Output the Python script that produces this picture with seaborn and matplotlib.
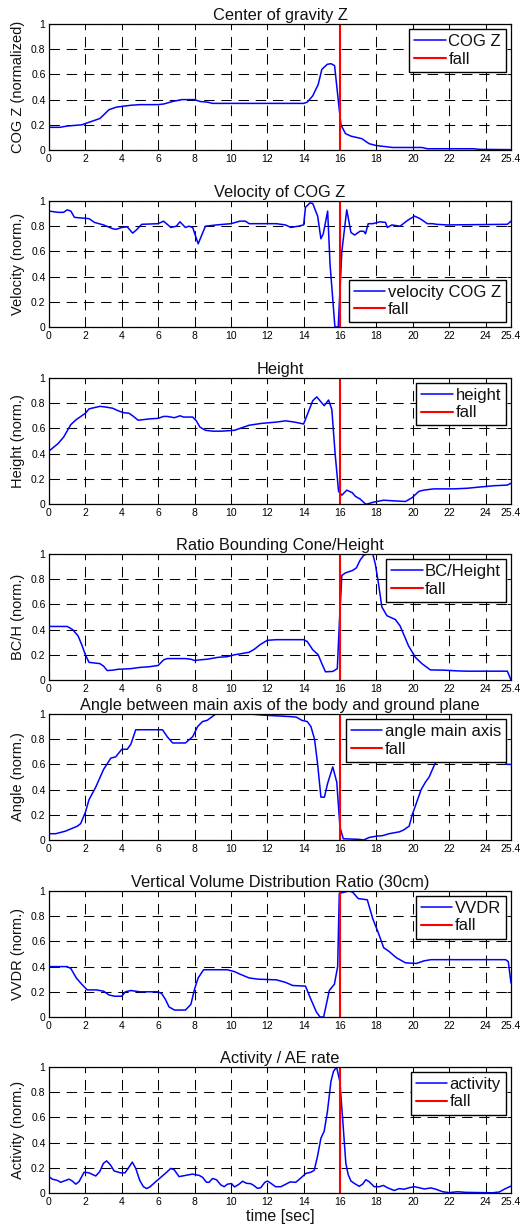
import matplotlib
matplotlib.use("Agg")
import matplotlib.pyplot as plt
import pandas as pd
import seaborn as sns

FALL_TIME = 16.0
T_END = 25.4

# --- Center of gravity Z -------------------------------------------------
cog_t = [0, 0.6, 1.0, 1.8, 2.2, 2.8, 3.3, 3.7, 4.5, 5.0, 6.0, 6.3, 6.8, 7.3, 8.0,
         8.3, 8.7, 9.0, 10.0, 14.0, 14.2, 14.5, 14.8, 15.0, 15.3, 15.5, 15.7,
         15.9, 16.05, 16.3, 16.6, 17.2, 17.6, 18.0, 18.9, 20.5, 20.8, 23.3, 23.7, 25.4]
cog_z = [0.18, 0.18, 0.19, 0.20, 0.22, 0.25, 0.32, 0.34, 0.355, 0.36, 0.36, 0.365,
         0.385, 0.40, 0.40, 0.385, 0.38, 0.37, 0.37, 0.37, 0.38, 0.43, 0.52, 0.64,
         0.68, 0.685, 0.67, 0.40, 0.20, 0.13, 0.11, 0.09, 0.05, 0.035, 0.02, 0.02,
         0.01, 0.01, 0.005, 0.003]

# --- Velocity of COG Z ---------------------------------------------------
vel_t = [0, 0.5, 0.8, 1.0, 1.2, 1.4, 1.8, 2.2, 2.5, 3.0, 3.5, 3.7, 4.0, 4.3, 4.6,
         4.8, 5.1, 6.0, 6.3, 6.7, 7.0, 7.2, 7.5, 7.7, 7.9, 8.2, 8.6, 9.2, 10.0,
         10.5, 10.8, 11.0, 12.5, 13.0, 13.3, 13.7, 14.0, 14.1, 14.35, 14.5, 14.77,
         14.95, 15.08, 15.32, 15.45, 15.72, 15.9, 16.1, 16.37, 16.6, 16.8, 17.1,
         17.3, 17.4, 17.55, 17.8, 18.2, 18.5, 18.6, 18.85, 19.3, 19.75, 20.1, 20.4,
         20.8, 21.1, 21.3, 21.9, 25.2, 25.4]
vel_v = [0.92, 0.91, 0.91, 0.93, 0.92, 0.87, 0.865, 0.86, 0.83, 0.81, 0.78, 0.775,
         0.79, 0.795, 0.745, 0.77, 0.815, 0.82, 0.84, 0.79, 0.80, 0.835, 0.79, 0.80,
         0.79, 0.66, 0.80, 0.81, 0.82, 0.84, 0.84, 0.82, 0.82, 0.81, 0.79, 0.80,
         0.81, 0.95, 0.985, 0.98, 0.88, 0.70, 0.74, 0.92, 0.50, 0.0, 0.0, 0.60,
         0.93, 0.75, 0.73, 0.76, 0.76, 0.74, 0.82, 0.82, 0.835, 0.83, 0.79, 0.81,
         0.80, 0.85, 0.88, 0.86, 0.82, 0.82, 0.815, 0.81, 0.815, 0.84]

# --- Height --------------------------------------------------------------
hgt_t = [0, 0.5, 0.8, 1.2, 1.5, 2.0, 2.2, 2.5, 2.8, 3.1, 3.5, 3.8, 4.1, 4.4, 4.6,
         4.9, 5.1, 5.5, 6.0, 6.3, 6.5, 6.9, 7.2, 7.4, 7.9, 8.1, 8.3, 8.6, 9.0, 9.5,
         10.2, 10.5, 11.0, 11.7, 12.5, 13.0, 13.5, 14.0, 14.5, 14.72, 15.13, 15.37,
         15.55, 15.73, 15.92, 16.1, 16.37, 16.67, 16.85, 17.1, 17.4, 17.5, 17.85,
         18.4, 18.96, 19.6, 19.96, 20.33, 20.6, 21.15, 22.25, 23.0, 23.7, 24.46,
         25.2, 25.4]
hgt_v = [0.42, 0.48, 0.53, 0.63, 0.67, 0.72, 0.755, 0.765, 0.775, 0.77, 0.76, 0.74,
         0.725, 0.72, 0.70, 0.665, 0.668, 0.675, 0.68, 0.695, 0.695, 0.685, 0.70,
         0.69, 0.69, 0.66, 0.61, 0.585, 0.578, 0.578, 0.585, 0.60, 0.625, 0.64,
         0.65, 0.66, 0.65, 0.635, 0.82, 0.85, 0.78, 0.825, 0.75, 0.40, 0.10, 0.07,
         0.11, 0.09, 0.06, 0.04, 0.0, 0.0, 0.015, 0.03, 0.025, 0.02, 0.05, 0.10,
         0.11, 0.12, 0.12, 0.125, 0.135, 0.145, 0.15, 0.165]

# --- Ratio bounding cone / height ----------------------------------------
bch_t = [0, 1.0, 1.3, 1.6, 1.8, 2.0, 2.2, 2.5, 2.8, 3.0, 3.2, 3.5, 3.8, 4.5, 5.0,
         5.5, 6.0, 6.3, 6.5, 7.5, 7.8, 8.0, 8.3, 8.7, 9.3, 9.8, 10.2, 10.6, 11.0,
         11.3, 11.6, 12.0, 12.5, 14.0, 14.2, 14.5, 14.8, 15.0, 15.2, 15.6, 15.85,
         15.97, 16.1, 16.3, 16.7, 16.9, 17.1, 17.3, 17.5, 17.8, 17.94, 18.1, 18.3,
         18.58, 19.04, 19.3, 19.77, 20.14, 20.5, 20.97, 21.7, 22.5, 23.0, 25.2, 25.4]
bch_v = [0.425, 0.425, 0.40, 0.35, 0.28, 0.20, 0.14, 0.135, 0.13, 0.11, 0.075,
         0.078, 0.085, 0.09, 0.10, 0.105, 0.115, 0.16, 0.17, 0.17, 0.165, 0.155,
         0.16, 0.165, 0.18, 0.185, 0.20, 0.21, 0.22, 0.245, 0.28, 0.315, 0.32, 0.32,
         0.305, 0.24, 0.20, 0.13, 0.065, 0.068, 0.09, 0.47, 0.83, 0.85, 0.87, 0.89,
         0.95, 0.99, 1.0, 1.0, 0.92, 0.78, 0.58, 0.51, 0.48, 0.43, 0.27, 0.18, 0.13,
         0.08, 0.078, 0.072, 0.07, 0.07, 0.0]

# --- Angle between main axis and ground plane -----------------------------
ang_t = [0, 0.37, 0.9, 1.56, 1.74, 2.0, 2.2, 2.57, 3.0, 3.4, 3.67, 4.0, 4.3, 4.5,
         4.77, 6.24, 6.5, 6.8, 7.5, 7.9, 8.17, 8.44, 8.7, 9.17, 11.0, 11.9, 13.2,
         13.6, 13.9, 14.2, 14.4, 14.6, 14.77, 14.95, 15.14, 15.32, 15.6, 15.82,
         16.0, 16.18, 17.06, 17.3, 17.6, 17.98, 18.35, 18.7, 19.27, 19.5, 19.8,
         19.97, 20.46, 20.7, 20.9, 21.2, 21.6, 22.0, 23.0, 24.0, 25.0, 25.2, 25.4]
ang_v = [0.05, 0.05, 0.07, 0.11, 0.13, 0.22, 0.32, 0.42, 0.56, 0.65, 0.66, 0.72,
         0.72, 0.76, 0.875, 0.875, 0.82, 0.77, 0.77, 0.82, 0.90, 0.94, 0.95, 1.0,
         1.0, 0.99, 0.98, 0.975, 0.95, 0.94, 0.90, 0.80, 0.60, 0.34, 0.34, 0.45,
         0.58, 0.46, 0.10, 0.01, 0.005, 0.0, 0.02, 0.03, 0.035, 0.05, 0.065, 0.08,
         0.11, 0.20, 0.40, 0.46, 0.50, 0.60, 0.67, 0.70, 0.70, 0.68, 0.63, 0.60, 0.60]

# --- Vertical volume distribution ratio -----------------------------------
vvd_t = [0, 1.0, 1.2, 1.5, 1.8, 2.1, 2.6, 3.0, 3.3, 3.6, 4.0, 4.2, 4.5, 5.0, 6.0,
         6.2, 6.4, 6.6, 6.9, 7.5, 7.8, 8.0, 8.2, 8.5, 9.8, 10.2, 10.5, 11.0, 11.5,
         12.5, 13.0, 13.4, 14.1, 14.4, 14.7, 14.9, 15.1, 15.41, 15.69, 15.87, 15.96,
         16.2, 16.5, 16.7, 17.0, 17.5, 17.8, 18.1, 18.4, 18.7, 19.1, 19.6, 20.2,
         20.6, 21.0, 25.1, 25.25, 25.4]
vvd_v = [0.40, 0.40, 0.385, 0.31, 0.26, 0.215, 0.215, 0.205, 0.175, 0.165, 0.165,
         0.20, 0.21, 0.20, 0.20, 0.185, 0.14, 0.08, 0.055, 0.055, 0.10, 0.22, 0.31,
         0.375, 0.375, 0.36, 0.34, 0.31, 0.30, 0.295, 0.275, 0.25, 0.245, 0.14, 0.04,
         0.0, 0.0, 0.21, 0.26, 0.40, 0.98, 0.99, 1.0, 0.99, 0.94, 0.93, 0.78, 0.67,
         0.55, 0.52, 0.47, 0.43, 0.425, 0.445, 0.455, 0.455, 0.44, 0.27]

# --- Activity / AE rate ---------------------------------------------------
act_t = [0, 0.18, 0.46, 0.64, 0.92, 1.1, 1.28, 1.47, 1.65, 1.93, 2.2, 2.57, 2.79,
         2.99, 3.17, 3.39, 3.58, 3.94, 4.18, 4.44, 4.58, 4.77, 4.99, 5.19, 5.37,
         5.56, 5.87, 6.23, 6.51, 6.69, 6.88, 7.15, 7.52, 7.89, 8.25, 8.44, 8.66,
         8.8, 8.99, 9.21, 9.44, 9.63, 9.81, 10.03, 10.2, 10.45, 10.64, 10.86, 11.09,
         11.28, 11.46, 11.64, 11.87, 12.01, 12.2, 12.45, 12.75, 13.02, 13.26, 13.57,
         13.85, 14.12, 14.4, 14.58, 14.76, 14.95, 15.13, 15.31, 15.5, 15.64, 15.81,
         15.99, 16.14, 16.32, 16.45, 16.6, 16.78, 17.05, 17.24, 17.42, 17.6, 17.88,
         18.15, 18.39, 18.6, 18.98, 19.25, 19.53, 19.8, 20.08, 20.35, 20.63, 21.0,
         21.27, 21.64, 22.0, 22.46, 22.92, 23.84, 24.39, 24.76, 25.03, 25.4]
act_v = [0.13, 0.11, 0.10, 0.085, 0.10, 0.11, 0.095, 0.07, 0.09, 0.165, 0.16,
         0.135, 0.17, 0.235, 0.255, 0.22, 0.175, 0.16, 0.16, 0.215, 0.245, 0.195,
         0.10, 0.05, 0.035, 0.05, 0.09, 0.135, 0.17, 0.195, 0.185, 0.13, 0.14, 0.15,
         0.14, 0.125, 0.085, 0.085, 0.115, 0.105, 0.065, 0.05, 0.07, 0.075, 0.048,
         0.07, 0.093, 0.077, 0.074, 0.058, 0.037, 0.042, 0.085, 0.095, 0.077, 0.05,
         0.05, 0.07, 0.088, 0.085, 0.12, 0.155, 0.165, 0.18, 0.29, 0.435, 0.49, 0.65,
         0.885, 0.965, 1.0, 0.885, 0.595, 0.235, 0.145, 0.095, 0.077, 0.053, 0.07,
         0.105, 0.09, 0.05, 0.05, 0.06, 0.042, 0.02, 0.035, 0.03, 0.042, 0.05, 0.042,
         0.032, 0.04, 0.03, 0.01, 0.003, 0.01, 0.005, 0.003, 0.002, 0.008, 0.03, 0.055]

titles = ["Center of gravity Z", "Velocity of COG Z", "Height",
          "Ratio Bounding Cone/Height",
          "Angle between main axis of the body and ground plane",
          "Vertical Volume Distribution Ratio (30cm)", "Activity / AE rate"]
ylabels = ["COG Z (normalized)", "Velocity (norm.)", "Height (norm.)",
           "BC/H (norm.)", "Angle (norm.)", "VVDR (norm.)", "Activity (norm.)"]
series_names = ["COG Z", "velocity COG Z", "height", "BC/Height",
                "angle main axis", "VVDR", "activity"]
fall_label = "fall"
x_ticks = [0, 2, 4, 6, 8, 10, 12, 14, 16, 18, 20, 22, 24, 25.4]
x_ticklabels = ["0", "2", "4", "6", "8", "10", "12", "14", "16", "18", "20",
                "22", "24", "25.4"]
y_ticks = [0, 0.2, 0.4, 0.6, 0.8, 1.0]
y_ticklabels = ["0", "0.2", "0.4", "0.6", "0.8", "1"]
xlabel = "time [sec]"

series = [(cog_t, cog_z), (vel_t, vel_v), (hgt_t, hgt_v), (bch_t, bch_v),
          (ang_t, ang_v), (vvd_t, vvd_v), (act_t, act_v)]
legend_locs = ["upper right", "lower right", "upper right", "upper right",
               "upper right", "upper right", "upper right"]

sns.set_theme(style="white")
plt.rcParams["font.family"] = ["Liberation Sans", "DejaVu Sans"]

W, H = 523, 1228
fig = plt.figure(figsize=(W / 100, H / 100), dpi=100)
fig.patch.set_facecolor("white")

# panel tops in pixels from the top edge; every panel is 126 px tall
tops = [24, 201, 378, 554, 714, 891, 1067]
left_px, right_px, height_px = 49, 511, 126

for i, ((t, v), top) in enumerate(zip(series, tops)):
    ax = fig.add_axes([left_px / W, 1 - (top + height_px) / H,
                       (right_px - left_px) / W, height_px / H])
    df = pd.DataFrame({"t": t, "v": v})
    sns.lineplot(data=df, x="t", y="v", ax=ax, color="#0000ff", linewidth=1.1,
                 label=series_names[i], sort=False, estimator=None)
    ax.axvline(FALL_TIME, color="#ff0000", linewidth=1.5, label=fall_label)

    ax.set_xlim(0, T_END)
    ax.set_ylim(0, 1)
    ax.set_xticks(x_ticks)
    ax.set_xticklabels(x_ticklabels)
    ax.set_yticks(y_ticks)
    ax.set_yticklabels(y_ticklabels)
    ax.tick_params(axis="both", which="both", direction="in", length=3, width=0.7,
                   labelsize=7.5, colors="black", pad=2.5, top=True, right=True,
                   bottom=True, left=True)
    ax.tick_params(axis="x", pad=3)

    for s in ax.spines.values():
        s.set_color("black")
        s.set_linewidth(0.9)
        s.set_visible(True)

    ax.grid(True, color="black", linewidth=0.75, linestyle=(0, (10, 6.5)))
    ax.set_axisbelow(True)

    ax.set_title(titles[i], fontsize=11.8, pad=3, color="#111111")
    ax.set_xlabel("")
    ax.set_ylabel(ylabels[i], fontsize=10.5, color="#111111")
    ax.yaxis.set_label_coords(-0.052, 0.5)

    leg = ax.legend(loc=legend_locs[i], fontsize=12, frameon=True, fancybox=False,
                    framealpha=1, edgecolor="black", borderpad=0.3,
                    labelspacing=0.15, handlelength=1.9, handletextpad=0.15,
                    borderaxespad=0.3)
    leg.get_frame().set_linewidth(1.0)
    for txt in leg.get_texts():
        txt.set_color("#111111")

    if i == len(series) - 1:
        ax.set_xlabel(xlabel, fontsize=11.5, labelpad=1, color="#111111")

fig.savefig("out.png", dpi=100, facecolor="white")
